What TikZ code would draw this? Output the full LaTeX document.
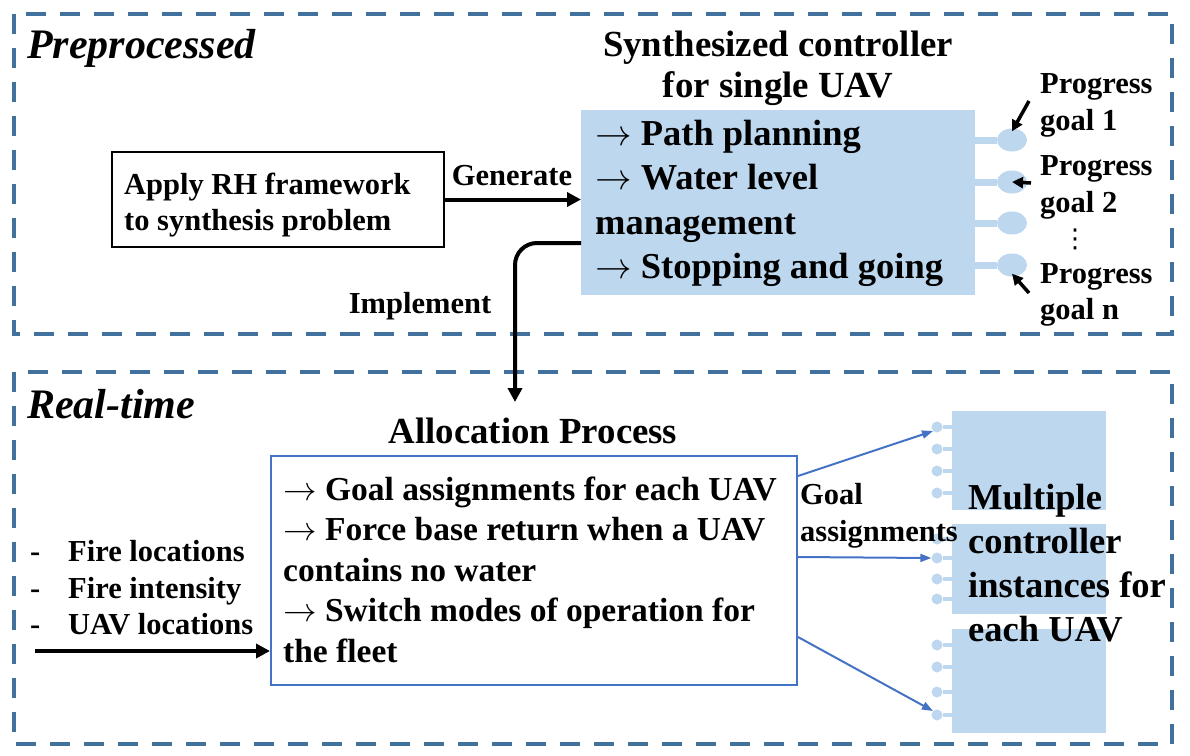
\RequirePackage{fix-cm}
\documentclass[tikz,border=0pt]{standalone}
\usepackage{fontspec}
\setmainfont{Liberation Serif}
\newfontfamily\dejavu{DejaVu Sans}
\usetikzlibrary{arrows.meta,shapes.geometric}
\definecolor{dashblue}{HTML}{41719C}
\definecolor{lblue}{HTML}{BDD7EE}
\definecolor{mblue}{HTML}{4472C4}
\newcommand{\myarr}{$\rightarrow$\ }
\tikzset{
  dframe/.style={draw=dashblue, line width=4.5pt, dash pattern=on 20pt off 14pt},
  big/.style={anchor=base west, inner sep=0pt, font=\bfseries\fontsize{36.5}{44}\selectfont},
  bigc/.style={anchor=base, inner sep=0pt, font=\bfseries\fontsize{36.8}{44}\selectfont},
  title/.style={anchor=base west, inner sep=0pt, font=\bfseries\itshape\fontsize{42}{48}\selectfont},
  mid/.style={anchor=base west, inner sep=0pt, font=\bfseries\fontsize{33.5}{40}\selectfont},
  sml/.style={anchor=base west, inner sep=0pt, font=\bfseries\fontsize{30.5}{37}\selectfont},
  smlc/.style={anchor=base, inner sep=0pt, font=\bfseries\fontsize{30.5}{37}\selectfont},
  blkarrow/.style={draw=black, line width=4pt, -{Triangle[length=14pt,width=14pt]}},
  goalarrow/.style={draw=black, line width=3.5pt, -{Triangle[length=11pt,width=11pt]}},
  bluearrow/.style={draw=mblue, line width=2pt, -{Triangle[length=11pt,width=8pt]}},
  goalpin/.style={ellipse, fill=lblue, minimum width=30pt, minimum height=23pt, inner sep=0pt},
  pin/.style={circle, fill=lblue, minimum size=11pt, inner sep=0pt},
  stub/.style={draw=lblue, line width=7pt},
  sstub/.style={draw=lblue, line width=4pt},
  block/.style={fill=lblue, anchor=north west, inner sep=0pt, minimum width=154pt},
}
\begin{document}
\begin{tikzpicture}[x=1pt,y=-1pt]
\useasboundingbox (0,0) rectangle (1190,755);
% frames
\draw[dframe] (14,14) rectangle (1172,334);
\draw[dframe] (14,372) rectangle (1172,744);
\node[title] (tpre) at (27,58) {Preprocessed};
\node[title] (treal) at (27,418) {Real-time};

% Apply box
\node[draw=black, line width=2pt, anchor=north west, minimum width=332pt, minimum height=95pt, inner sep=0pt] (apply) at (111,151) {};
\node[sml] (ap1) at (124,194) {Apply RH framework};
\node[sml] (ap2) at (124,230) {to synthesis problem};

% Synthesized controller
\node[bigc] (sc1) at (778,56) {Synthesized controller};
\node[bigc] (sc2) at (778,97) {for single UAV};
\node[fill=lblue, anchor=north west, minimum width=394pt, minimum height=185pt, inner sep=0pt] (synth) at (581,110) {};
\node[big] (s1) at (595,145) {\myarr Path planning};
\node[big] (s2) at (595,189) {\myarr Water level};
\node[big] (s3) at (595,234) {management};
\node[big] (s4) at (595,278) {\myarr Stopping and going};

% progress goal pins
\node[goalpin] (g1) at (1012,140) {};
\node[goalpin] (g2) at (1012,182) {};
\node[goalpin] (g3) at (1012,223) {};
\node[goalpin] (g4) at (1012,265) {};
\foreach \g in {g1,g2,g3,g4} \draw[stub] (synth.east |- \g) -- (\g);
\node[sml] (pg1a) at (1040,93) {Progress};
\node[sml] (pg1b) at (1040,130) {goal 1};
\node[sml] (pg2a) at (1040,175) {Progress};
\node[sml] (pg2b) at (1040,212) {goal 2};
\node[inner sep=0pt, font=\dejavu\fontsize{26}{30}\selectfont] (vd) at (1075,239) {⋮};
\node[sml] (pgna) at (1040,283) {Progress};
\node[sml] (pgnb) at (1040,319) {goal n};
\coordinate (a1) at (1029,101);
\coordinate (a2) at (1031,183);
\coordinate (a4) at (1029,293);
\draw[goalarrow] (a1) -- ([shift={(0pt,-3pt)}]g1.north);
\draw[goalarrow] (a2) -- (g2.center);
\draw[goalarrow] (a4) -- ([shift={(0pt,3pt)}]g4.south);

% Generate arrow
\draw[blkarrow] (apply.east) -- (synth.west |- apply.east);
\node[smlc] (gen) at (512,185) {Generate};

% Implement arrow
\coordinate (impl) at (515,402);
\draw[blkarrow, rounded corners=22pt] ([yshift=-133pt]synth.north west) -| (impl);
\node[smlc] (implt) at (420,313) {Implement};

% Allocation process
\node[bigc] (alt) at (533,443) {Allocation Process};
\node[draw=mblue, line width=2pt, anchor=north west, minimum width=526pt, minimum height=229pt, inner sep=0pt] (alloc) at (270,455) {};
\node[mid] (al1) at (283,500) {\myarr Goal assignments for each UAV};
\node[mid] (al2) at (283,540) {\myarr Force base return when a UAV};
\node[mid] (al3) at (283,581) {contains no water};
\node[mid] (al4) at (283,621) {\myarr Switch modes of operation for};
\node[mid] (al5) at (283,662) {the fleet};

% inputs
\node[sml] (d1) at (30,561) {-};
\node[sml] (d2) at (30,598) {-};
\node[sml] (d3) at (30,634) {-};
\node[sml] (in1) at (68,561) {Fire locations};
\node[sml] (in2) at (68,598) {Fire intensity};
\node[sml] (in3) at (68,634) {UAV locations};
\coordinate (inp) at (35,651);
\draw[blkarrow] (inp) -- (alloc.west |- inp);

% multiple controller blocks
\node[block, minimum height=99pt] (m1) at (952,411) {};
\node[block, minimum height=90pt] (m2) at (952,524) {};
\node[block, minimum height=104pt] (m3) at (952,629) {};
\foreach \n/\y in {p1a/427,p1b/449,p1c/471,p1d/493,p2a/539,p2b/558,p2c/579,p2d/599,p3a/645,p3b/667,p3c/692,p3d/715}{
  \node[pin] (\n) at (937,\y) {};
  \draw[sstub] (\n) -- (m1.west |- \n);
}
\draw[bluearrow] ([yshift=-21pt]alloc.north east) -- (p1a.south west);
\draw[bluearrow] ([yshift=-102pt]alloc.north east) -- (p2b.west);
\draw[bluearrow] ([yshift=-182pt]alloc.north east) -- (p3d.north west);
\node[sml] (ga1) at (800,504) {Goal};
\node[sml] (ga2) at (800,541) {assignments};
\node[big] (mc1) at (968,509) {Multiple};
\node[big] (mc2) at (968,553) {controller};
\node[big] (mc3) at (968,597) {instances for};
\node[big] (mc4) at (968,641) {each UAV};
\end{tikzpicture}
\end{document}
